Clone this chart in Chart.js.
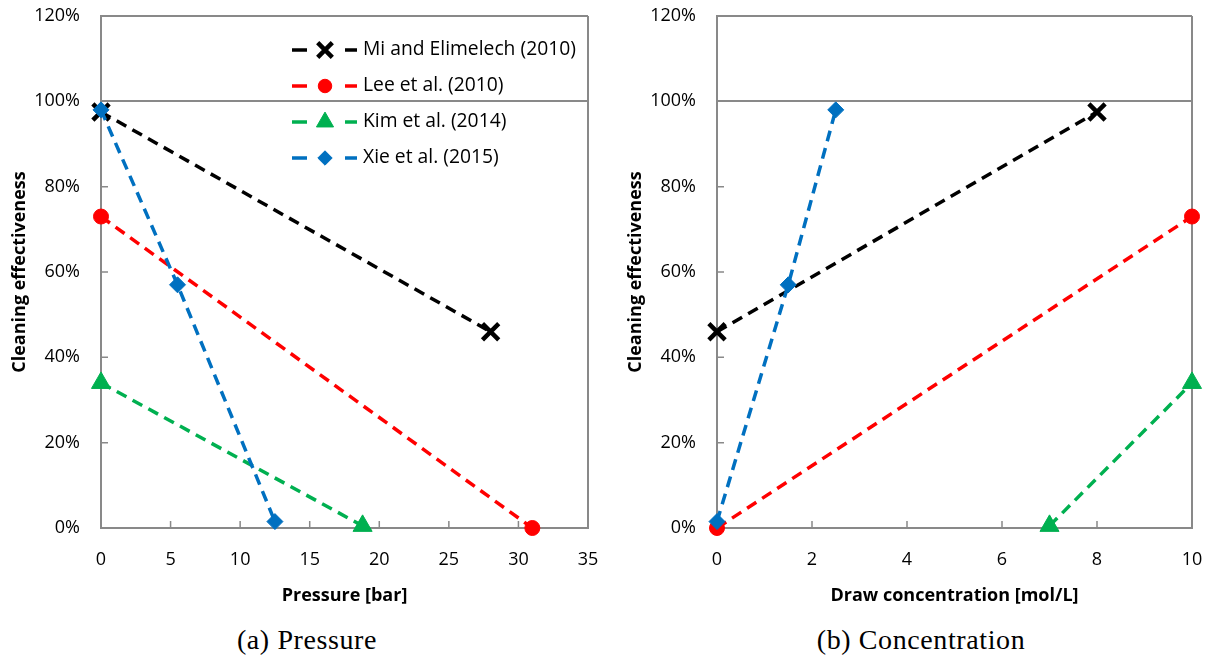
<!DOCTYPE html>
<html><head><meta charset="utf-8">
<script src="https://cdn.jsdelivr.net/npm/chart.js@4/dist/chart.umd.min.js"></script>
<style>
html,body{margin:0;padding:0;background:#fff;width:1211px;height:659px;overflow:hidden;}
#wrapA{position:absolute;left:0;top:0;width:605px;height:615px;}
#wrapB{position:absolute;left:605px;top:0;width:606px;height:615px;}
.cap{position:absolute;top:624px;font-family:"Liberation Serif",serif;font-size:28px;letter-spacing:0.6px;line-height:32px;color:#000;transform:translateX(-50%);white-space:nowrap;}
</style></head><body>
<div id="wrapA"><canvas id="cA"></canvas></div>
<div id="wrapB"><canvas id="cB"></canvas></div>
<div class="cap" style="left:307px">(a) Pressure</div>
<div class="cap" style="left:921px">(b) Concentration</div>
<script>
// ---- data ----
const seriesNames = ['Mi and Elimelech (2010)', 'Lee et al. (2010)', 'Kim et al. (2014)', 'Xie et al. (2015)'];
const yTicks = [0, 20, 40, 60, 80, 100, 120];
const pressureTicks = [0, 5, 10, 15, 20, 25, 30, 35];
const concTicks = [0, 2, 4, 6, 8, 10];
// (a) Pressure [bar] vs cleaning effectiveness [%]
const pressMiX = [0, 28],         pressMiY = [97.5, 46];
const pressLeeX = [0, 31],        pressLeeY = [73, 0];
const pressKimX = [0, 18.8],      pressKimY = [34, 0.5];
const pressXieX = [0, 5.5, 12.5], pressXieY = [98, 57, 1.5];
// (b) Draw concentration [mol/L] vs cleaning effectiveness [%]
const concMiX = [0, 8],           concMiY = [46, 97.5];
const concLeeX = [0, 10],         concLeeY = [0, 73];
const concKimX = [7, 10],         concKimY = [0.5, 34];
const concXieX = [0, 1.5, 2.5],   concXieY = [1.5, 57, 98];

// ---- styles ----
const AXIS = '#898989';
const TICKFONT = {family: '"Open Sans", sans-serif', size: 18};
const TITLEFONT = {family: '"Open Sans", sans-serif', size: 18, weight: 'bold'};
const styles = [
  {color: '#000000', pointStyle: 'crossRot', radius: 11.5, pbw: 4.5, order: 4},
  {color: '#FF0000', pointStyle: 'circle', radius: 7.5, pbw: 1, order: 3},
  {color: '#00B050', pointStyle: 'triangle', radius: 11, pbw: 1, order: 2},
  {color: '#0070C0', pointStyle: 'rectRot', radius: 8, pbw: 1, order: 1}
];
const zip = (xs, ys) => xs.map((x, i) => ({x: x, y: ys[i]}));
function makeDatasets(pairs) {
  return pairs.map((p, i) => ({
    label: seriesNames[i],
    data: zip(p[0], p[1]),
    showLine: true,
    borderColor: styles[i].color,
    backgroundColor: styles[i].color,
    borderWidth: 3.5,
    borderDash: [11, 7],
    pointStyle: styles[i].pointStyle,
    pointRadius: styles[i].radius,
    pointHoverRadius: styles[i].radius,
    pointBorderWidth: styles[i].pbw,
    pointBorderColor: styles[i].color,
    pointBackgroundColor: styles[i].color,
    order: styles[i].order,
    clip: false
  }));
}
function makeScales(xTicks, xTitle) {
  const xMin = xTicks[0], xMax = xTicks[xTicks.length - 1];
  const yMax = yTicks[yTicks.length - 1];
  return {
    x: {
      type: 'linear', min: xMin, max: xMax,
      afterBuildTicks: s => { s.ticks = xTicks.map(v => ({value: v})); },
      afterFit: s => { s.height = 87; s.paddingLeft = 0; s.paddingRight = 0; },
      ticks: {padding: 21, font: TICKFONT, color: '#000'},
      grid: {drawTicks: false, lineWidth: 2,
        color: c => (c.tick && Math.abs(c.tick.value - xMax) < 1e-9) ? AXIS : 'rgba(0,0,0,0)'},
      border: {color: AXIS, width: 2},
      title: {display: true, text: xTitle, font: TITLEFONT, color: '#000', padding: {top: 0, bottom: 8}}
    },
    y: {
      type: 'linear', min: yTicks[0], max: yMax,
      afterBuildTicks: s => { s.ticks = yTicks.map(v => ({value: v})); },
      afterFit: s => { s.width = 101; s.paddingTop = 0; s.paddingBottom = 0; },
      ticks: {padding: 21, font: TICKFONT, color: '#000', callback: v => v + '%'},
      grid: {drawTicks: false, lineWidth: 2,
        color: c => (c.tick && (Math.abs(c.tick.value - 100) < 1e-9 || Math.abs(c.tick.value - yMax) < 1e-9)) ? AXIS : 'rgba(0,0,0,0)'},
      border: {color: AXIS, width: 2},
      title: {display: true, text: 'Cleaning effectiveness', font: TITLEFONT, color: '#000', padding: {top: 8.7, bottom: 0}}
    }
  };
}
const innerTicks = {
  id: 'innerTicks',
  beforeDatasetsDraw(chart) {
    const {ctx, chartArea: a, scales: {x, y}} = chart;
    ctx.save();
    ctx.strokeStyle = AXIS; ctx.lineWidth = 1.5;
    ctx.beginPath();
    y.ticks.forEach(t => { const py = y.getPixelForValue(t.value); ctx.moveTo(a.left, py); ctx.lineTo(a.left + 7, py); });
    x.ticks.forEach(t => { const px = x.getPixelForValue(t.value); ctx.moveTo(px, a.bottom); ctx.lineTo(px, a.bottom - 7); });
    ctx.stroke();
    ctx.restore();
  }
};
const dashLegend = {
  id: 'dashLegend',
  afterDatasetsDraw(chart) {
    const {ctx, chartArea: a} = chart;
    const x0 = a.right - 296;
    chart.data.datasets.forEach((ds, i) => {
      const yy = a.top + 34 + i * 36;
      ctx.save();
      ctx.setLineDash([]);
      ctx.strokeStyle = ds.borderColor; ctx.fillStyle = ds.borderColor;
      ctx.lineWidth = ds.borderWidth;
      ctx.beginPath();
      ctx.moveTo(x0, yy); ctx.lineTo(x0 + 15, yy);
      ctx.moveTo(x0 + 53, yy); ctx.lineTo(x0 + 65, yy);
      ctx.stroke();
      ctx.lineWidth = ds.pointBorderWidth;
      Chart.helpers.drawPoint(ctx, {pointStyle: ds.pointStyle, radius: ds.pointRadius * 0.9, borderWidth: ds.pointBorderWidth, rotation: 0}, x0 + 33, yy);
      ctx.fillStyle = '#000';
      ctx.font = '19.3px "Open Sans", sans-serif';
      ctx.textBaseline = 'middle';
      ctx.fillText(ds.label, x0 + 71, yy);
      ctx.restore();
    });
  }
};
function makeChart(id, pairs, xTicks, xTitle, padLeft, padRight, withLegend) {
  return new Chart(document.getElementById(id), {
    type: 'scatter',
    data: {datasets: makeDatasets(pairs)},
    options: {
      responsive: true, maintainAspectRatio: false, animation: false,
      layout: {padding: {left: padLeft, right: padRight, top: 15, bottom: 0}},
      plugins: {legend: {display: false}, tooltip: {enabled: false}},
      scales: makeScales(xTicks, xTitle)
    },
    plugins: withLegend ? [innerTicks, dashLegend] : [innerTicks]
  });
}
makeChart('cA', [[pressMiX, pressMiY], [pressLeeX, pressLeeY], [pressKimX, pressKimY], [pressXieX, pressXieY]],
  pressureTicks, 'Pressure [bar]', 0, 17, true);
makeChart('cB', [[concMiX, concMiY], [concLeeX, concLeeY], [concKimX, concKimY], [concXieX, concXieY]],
  concTicks, 'Draw concentration [mol/L]', 11, 19, false);
</script>
</body></html>
